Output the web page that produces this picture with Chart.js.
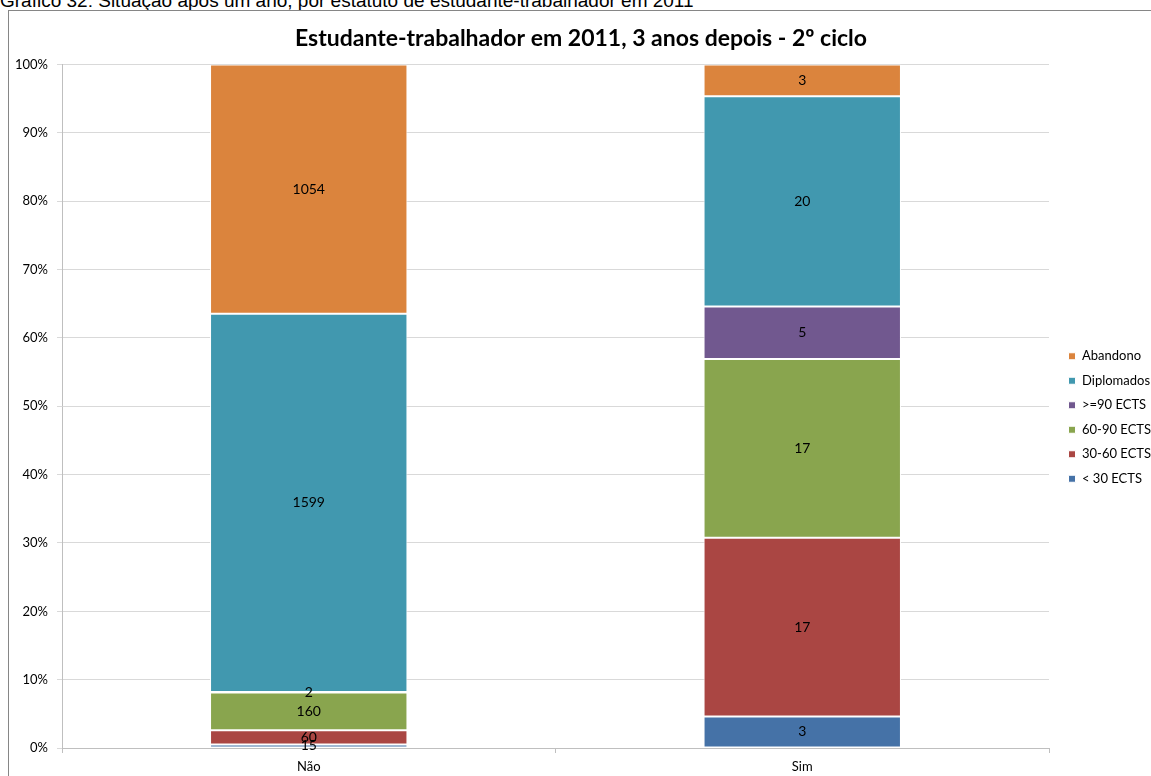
<!DOCTYPE html>
<html>
<head>
<meta charset="utf-8">
<script src="https://cdn.jsdelivr.net/npm/chart.js@4"></script>
<style>
  html, body { margin: 0; padding: 0; background: #fff; overflow: hidden; }
  body { width: 1151px; height: 776px; position: relative; }
  #caption {
    position: absolute; left: 0; top: -9px;
    font: 19px "Liberation Sans", Arial, sans-serif; line-height: 19px;
    color: #000; white-space: nowrap;
  }
  #frame {
    position: absolute; left: 8px; top: 10px; width: 1200px; height: 800px;
    border: 1px solid #868686; box-sizing: border-box;
  }
  #wrap { position: absolute; left: 9px; top: 11px; width: 1144px; height: 765px; }
</style>
</head>
<body>
<div id="caption">Gráfico 32: Situação após um ano, por estatuto de estudante-trabalhador em 2011</div>
<div id="frame"></div>
<div id="wrap"><canvas id="chart"></canvas></div>
<script>
// ---- data ----
const categories = ['Não', 'Sim'];
const seriesNames = ['< 30 ECTS', '30-60 ECTS', '60-90 ECTS', '>=90 ECTS', 'Diplomados', 'Abandono'];
const lt30 = [15, 3];
const ects30to60 = [60, 17];
const ects60to90 = [160, 17];
const ge90 = [2, 5];
const diplomados = [1599, 20];
const abandono = [1054, 3];
const seriesColors = ['#4572A7', '#AA4643', '#89A54E', '#71588F', '#4198AF', '#DB843D'];

const counts = [lt30, ects30to60, ects60to90, ge90, diplomados, abandono];
const totals = categories.map((c, i) => counts.reduce((s, arr) => s + arr[i], 0));

const FONT = 'Lato, "Open Sans", sans-serif';

// 100% stacked: share of each category's total
const datasets = counts.map((arr, k) => ({
    label: seriesNames[k],
    data: arr.map((v, i) => v / totals[i] * 100),
    raw: arr,
    backgroundColor: seriesColors[k],
    borderColor: '#ffffff',
    borderWidth: 1,
    borderSkipped: false,
    barPercentage: 0.4,
    categoryPercentage: 1
}));

const countLabels = {
    id: 'countLabels',
    afterDatasetsDraw(chart) {
        const ctx = chart.ctx;
        ctx.save();
        ctx.font = '14px ' + FONT;
        ctx.fillStyle = '#000';
        ctx.textAlign = 'center';
        ctx.textBaseline = 'middle';
        chart.data.datasets.forEach((ds, k) => {
            chart.getDatasetMeta(k).data.forEach((el, i) => {
                ctx.fillText(ds.raw[i], el.x, (el.y + el.base) / 2);
            });
        });
        ctx.restore();
    }
};

// nudge the legend a little right and down, like the original
const legendNudge = {
    id: 'legendNudge',
    afterLayout(chart) {
        const lg = chart.legend;
        lg.left += 8; lg.right += 8;
        lg.top += 24; lg.bottom += 24;
    }
};

new Chart(document.getElementById('chart').getContext('2d'), {
    type: 'bar',
    data: { labels: categories, datasets: datasets },
    plugins: [countLabels, legendNudge],
    options: {
        responsive: true,
        maintainAspectRatio: false,
        animation: false,
        plugins: {
            tooltip: { enabled: false },
            title: {
                display: true,
                text: 'Estudante-trabalhador em 2011, 3 anos depois - 2º ciclo',
                color: '#000',
                font: { family: FONT, size: 23, weight: 'bold' },
                padding: { top: 14, bottom: 12 }
            },
            legend: {
                position: 'right',
                reverse: true,
                labels: {
                    boxWidth: 7,
                    boxHeight: 7,
                    padding: 11.5,
                    color: '#000',
                    font: { family: FONT, size: 13 }
                }
            }
        },
        scales: {
            x: {
                stacked: true,
                grid: { drawOnChartArea: false, drawTicks: true, tickLength: 5, color: '#bfbfbf' },
                border: { color: '#bfbfbf' },
                ticks: { color: '#000', font: { family: FONT, size: 13 }, padding: 6 },
                afterFit(scale) { scale.height = 28; }
            },
            y: {
                stacked: true,
                min: 0,
                max: 100,
                grid: { color: '#d9d9d9', tickLength: 5 },
                border: { color: '#bfbfbf' },
                ticks: {
                    stepSize: 10,
                    color: '#000',
                    padding: 9,
                    font: { family: FONT, size: 13 },
                    callback: v => v + '%'
                },
                afterFit(scale) { scale.width = 53; }
            }
        }
    }
});
</script>
</body>
</html>
